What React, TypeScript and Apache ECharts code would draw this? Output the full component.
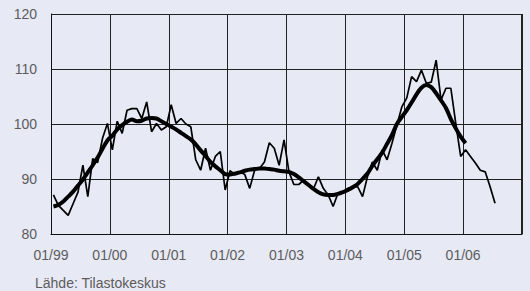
import React, { useEffect, useRef } from "react";
import * as echarts from "echarts";

// Monthly index, from 01/1999 (month 0) to 07/2006
const monthlyIndex: number[] = [
  87.1, 85.2, 84.3, 83.4, 85.5, 87.6, 92.5, 86.8, 93.7, 93.0, 97.4, 100.1,
  95.3, 100.5, 98.3, 102.5, 102.8, 102.8, 101.0, 104.0, 98.6, 100.1, 98.9, 99.5,
  103.5, 100.1, 101.0, 100.0, 99.5, 93.5, 91.6, 95.6, 91.6, 94.1, 95.0, 88.0,
  91.5, 90.8, 91.3, 90.8, 88.3, 91.6, 91.9, 93.1, 96.6, 95.6, 92.5, 97.1,
  91.3, 89.0, 89.0, 89.8, 89.0, 88.2, 90.4, 88.3, 87.1, 85.0, 87.4, 87.7,
  88.3, 88.6, 88.6, 86.8, 90.4, 93.1, 91.6, 95.3, 93.5, 96.5, 99.8, 103.1,
  104.7, 108.6, 107.7, 109.8, 107.4, 107.6, 111.6, 104.4, 106.5, 106.5, 100.1, 94.1,
  95.3, 94.1, 92.9, 91.6, 91.3, 88.6, 85.6,
];

// Trend, from 01/1999 to 01/2006
const trendIndex: number[] = [
  85.0, 85.3, 85.9, 86.8, 87.7, 88.8, 89.9, 91.2, 92.5, 93.9, 95.5, 97.0,
  97.9, 99.0, 99.8, 100.4, 100.8, 100.5, 100.6, 101.0, 101.1, 101.0, 100.5, 100.0,
  99.5, 99.0, 98.4, 97.8, 97.2, 96.3, 95.2, 94.2, 93.1, 92.3, 91.6, 90.9,
  90.8, 91.0, 91.2, 91.5, 91.7, 91.8, 91.9, 91.9, 91.8, 91.7, 91.5, 91.4,
  91.3, 90.9, 90.3, 89.6, 88.9, 88.2, 87.6, 87.2, 87.1, 87.1, 87.3, 87.6,
  88.0, 88.5, 89.1, 90.0, 91.0, 92.4, 93.6, 94.8, 96.4, 98.0, 100.0, 101.3,
  102.5, 103.9, 105.4, 106.6, 107.1, 106.7, 105.6, 104.3, 102.9, 100.9, 99.2, 97.7,
  96.5,
];

const xTickLabels: string[] = ["01/99", "01/00", "01/01", "01/02", "01/03", "01/04", "01/05", "01/06", ""];
const sourceText = "Lähde: Tilastokeskus";

export default function App() {
  const ref = useRef<HTMLDivElement>(null);
  useEffect(() => {
    if (!ref.current) return;
    const chart = echarts.init(ref.current, null, { renderer: "svg" });
    const font = "'Liberation Sans', Arial, sans-serif";
    const toPts = (arr: number[]) => arr.map((v, i) => [i + 0.5, v]);
    chart.setOption({
      animation: false,
      backgroundColor: "#e7e9f5",
      grid: { left: 51, right: 8, top: 14, bottom: 57, containLabel: false },
      xAxis: {
        type: "value",
        min: 0,
        max: 96,
        interval: 12,
        axisLine: { show: true, lineStyle: { color: "#111", width: 1 } },
        axisTick: { show: false },
        splitLine: { show: true, lineStyle: { color: "#222", width: 1 } },
        axisLabel: {
          color: "#5c5c5c",
          fontSize: 14,
          fontFamily: font,
          margin: 14,
          formatter: (v: number) => xTickLabels[Math.round(v / 12)] ?? "",
        },
      },
      yAxis: {
        type: "value",
        min: 80,
        max: 120,
        interval: 10,
        axisLine: { show: true, lineStyle: { color: "#111", width: 1 } },
        axisTick: { show: false },
        splitLine: { show: true, lineStyle: { color: "#222", width: 1 } },
        axisLabel: { color: "#5c5c5c", fontSize: 14, fontFamily: font, margin: 14 },
      },
      graphic: [
        {
          type: "line",
          shape: { x1: 521.5, y1: 14, x2: 521.5, y2: 234 },
          style: { stroke: "#222", lineWidth: 1 },
        },
        {
          type: "text",
          left: 35,
          top: 276,
          style: { text: sourceText, fill: "#5c5c5c", fontSize: 14, fontFamily: font },
        },
      ],
      series: [
        {
          type: "line",
          data: toPts(monthlyIndex),
          showSymbol: false,
          lineStyle: { color: "#000", width: 1.7 },
          z: 3,
        },
        {
          type: "line",
          data: toPts(trendIndex),
          showSymbol: false,
          smooth: 0.3,
          lineStyle: { color: "#000", width: 4 },
          z: 4,
        },
      ],
    });
    return () => chart.dispose();
  }, []);
  return (
    <div
      ref={ref}
      style={{ position: "fixed", left: 0, top: 0, width: 530, height: 291 }}
    />
  );
}
